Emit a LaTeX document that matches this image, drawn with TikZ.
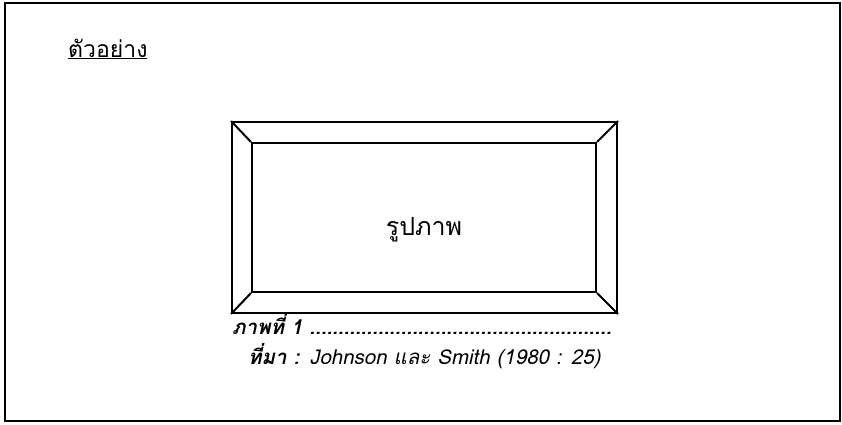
\documentclass[tikz,border=0pt]{standalone}
\usepackage{fontspec}
\setmainfont[Script=Thai]{Loma}
\usetikzlibrary{positioning}
\tikzset{
  framebox/.style={rectangle, draw, line width=2pt, inner sep=0pt},
  captext/.style={anchor=base west, inner sep=0pt, font=\fontsize{20.5}{24}\selectfont}
}
\begin{document}
\begin{tikzpicture}[x=1pt, y=-1pt]
        \useasboundingbox (0,0) rectangle (842,424);
        % Border
        \draw[line width=1.6pt] (5,3) rectangle (840,421);
        % Vertices
        \node[captext, font=\fontsize{23}{26}\selectfont](example) at (68,57){\underline{ตัวอย่าง}};
        \node[framebox, minimum width=385pt, minimum height=191pt](outer) at (424.5,217.5){};
        \node[framebox, minimum width=344pt, minimum height=149pt](inner) at (424,217.5){};
        \node[anchor=base, inner sep=0pt, font=\fontsize{25}{28}\selectfont](picLabel) at (424,235){รูปภาพ};
        \node[captext, font=\fontsize{20.5}{24}\selectfont\bfseries\itshape](figCap) at (232,334){ภาพที่ 1 .....................................................};
        \node[captext](srcCap) at (248,364){\textbf{\textit{ที่มา :}} \textit{Johnson และ Smith (1980 : 25)}};
        % Edges
        \draw[line width=2pt](outer.north west) -- (inner.north west);
        \draw[line width=2pt](outer.north east) -- (inner.north east);
        \draw[line width=2pt](outer.south west) -- (inner.south west);
        \draw[line width=2pt](outer.south east) -- (inner.south east);

    \end{tikzpicture}
\end{document}
